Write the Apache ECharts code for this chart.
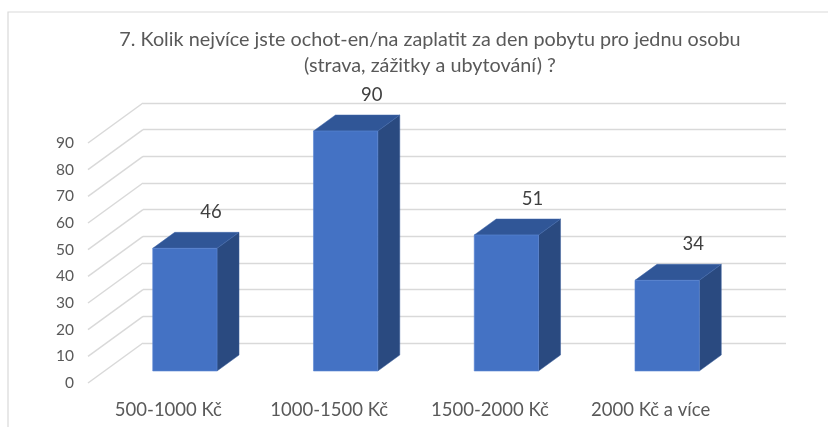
<!DOCTYPE html>
<html><head><meta charset="utf-8">
<script src="https://cdn.jsdelivr.net/npm/echarts@6/dist/echarts.min.js"></script>
<style>html,body{margin:0;padding:0;background:#fff}#c{width:828px;height:427px}</style>
</head><body><div id="c"></div>
<script>
const titleText = '7. Kolik nejvíce jste ochot-en/na zaplatit za den pobytu pro jednu osobu\n(strava, zážitky a ubytování) ?';
const categories = ['500-1000 Kč', '1000-1500 Kč', '1500-2000 Kč', '2000 Kč a více'];
const values = [46, 90, 51, 34];
const yTicks = [0, 10, 20, 30, 40, 50, 60, 70, 80, 90];

const FONT = 'Lato, "Open Sans", sans-serif';
const DX = 55, DY = 40;          // floor depth vector (back -> front)
const FRONT_D = 0.7, BACK_D = 0.3; // bar depth position in floor (0 = back wall)

const chart = echarts.init(document.getElementById('c'), null, {renderer: 'canvas'});
chart.setOption({
  animation: false,
  backgroundColor: '#fff',
  title: {
    text: titleText, left: 425, top: 22, textAlign: 'center',
    textStyle: {fontFamily: FONT, fontSize: 19.8, fontWeight: 'normal', color: '#595959', lineHeight: 26}
  },
  graphic: [{type: 'rect', shape: {x: 8, y: 12, width: 900, height: 600}, style: {fill: 'none', stroke: '#d9d9d9', lineWidth: 1.2}, z: -1}],
  grid: [
    {left: 143, right: 42, top: 103, bottom: 84},
    {left: 88, right: 97, top: 143, bottom: 44}
  ],
  xAxis: [
    {gridIndex: 0, type: 'category', data: categories, show: false},
    {gridIndex: 1, type: 'category', data: categories,
     axisLine: {show: false}, axisTick: {show: false}, splitLine: {show: false},
     axisLabel: {margin: 18, fontFamily: FONT, fontSize: 18.5, color: '#595959'}}
  ],
  yAxis: [
    {gridIndex: 0, type: 'value', min: 0, max: 90, interval: 10,
     axisLabel: {show: false}, axisLine: {show: false}, axisTick: {show: false},
     splitLine: {lineStyle: {color: '#d9d9d9', width: 1.4}}},
    {gridIndex: 1, type: 'value', min: 0, max: 90, interval: 10,
     axisLine: {show: false}, axisTick: {show: false}, splitLine: {show: false},
     axisLabel: {margin: 14, fontFamily: FONT, fontSize: 15.5, color: '#595959'}}
  ],
  series: [
    {
      type: 'custom', xAxisIndex: 0, yAxisIndex: 0, z: 1,
      data: yTicks.map(v => [0, v]),
      renderItem: function (params, api) {
        const cs = params.coordSys;
        const y = api.coord([0, api.value(1)])[1];
        return {type: 'line', shape: {x1: cs.x, y1: y, x2: cs.x - DX, y2: y + DY},
                style: {stroke: '#d9d9d9', lineWidth: 1.4}};
      }
    },
    {
      type: 'custom', xAxisIndex: 0, yAxisIndex: 0, z: 3,
      data: values.map((v, i) => [i, v]),
      renderItem: function (params, api) {
        const i = api.value(0), v = api.value(1);
        const top = api.coord([i, v]);
        const base = api.coord([i, 0]);
        const bw = api.size([1, 0])[0] * 0.4;
        const x0 = top[0] - bw / 2 - DX * FRONT_D;
        const x1 = x0 + bw;
        const yT = top[1] + DY * FRONT_D;
        const yB = base[1] + DY * FRONT_D;
        const ddx = DX * (FRONT_D - BACK_D), ddy = DY * (FRONT_D - BACK_D);
        return {type: 'group', children: [
          {type: 'polygon', shape: {points: [[x1, yT], [x1 + ddx, yT - ddy], [x1 + ddx, yB - ddy], [x1, yB]]},
           style: {fill: '#2a4a80', stroke: '#3a5e9c', lineWidth: 0.5}},
          {type: 'polygon', shape: {points: [[x0, yT], [x1, yT], [x1 + ddx, yT - ddy], [x0 + ddx, yT - ddy]]},
           style: {fill: '#305697', stroke: '#3f66aa', lineWidth: 0.5}},
          {type: 'rect', shape: {x: x0, y: yT, width: bw, height: yB - yT},
           style: {fill: '#4472c4', stroke: '#5a86d4', lineWidth: 0.6}},
          {type: 'text', style: {text: String(v), x: (x0 + x1) / 2 + ddx + 4, y: yT - ddy - 20,
            align: 'center', verticalAlign: 'middle', fontFamily: FONT, fontSize: 18.5, fill: '#404040'}}
        ]};
      }
    }
  ]
});
</script>
</body></html>
